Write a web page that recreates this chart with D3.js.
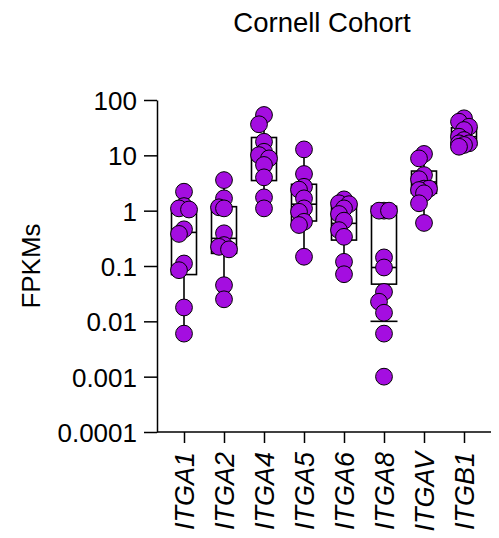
<!DOCTYPE html>
<html><head><meta charset="utf-8">
<script src="https://cdn.jsdelivr.net/npm/d3@7"></script>
<style>body{margin:0;background:#fff}svg{display:block;font-family:Arial,"Liberation Sans",sans-serif}</style>
</head><body><svg id="c" width="499" height="538"></svg>
<script>
const categories = ["ITGA1","ITGA2","ITGA4","ITGA5","ITGA6","ITGA8","ITGAV","ITGB1"];
const itga1 = [2.2,1.21,1.1,1.05,0.46,0.38,0.111,0.084,0.0178,0.006];
const itga2 = [3.57,1.67,1.15,1.1,0.39,0.239,0.222,0.2,0.045,0.025];
const itga4 = [53.6,36.4,17.6,11.6,10.1,8.8,6.7,4.0,1.74,1.1];
const itga5 = [12.8,4.6,2.7,2.4,1.67,1.1,0.955,0.63,0.55,0.147];
const itga6 = [1.6,1.36,1.31,1.1,0.87,0.66,0.445,0.337,0.119,0.071];
const itga8 = [1.0,1.0,1.0,0.143,0.094,0.034,0.0226,0.0143,0.006,0.001];
const itgav = [10.6,8.8,4.4,3.7,2.5,2.5,2.36,2.06,1.36,0.6];
const itgb1 = [46.7,40.5,32.9,28.7,21.7,18.9,16.5,16.5,15.4,14.3];
const seriesValues = [itga1,itga2,itga4,itga5,itga6,itga8,itgav,itgb1];
const boxQ3 =     [1.1, 1.18, 21, 3.0, 1.26, 1.2, 5.2, 31.5];
const boxMedian = [0.405, 0.316, 10, 1.31, 0.59, 0.094, 3.3, 21.7];
const boxQ1 =     [0.07, 0.169, 3.5, 0.65, 0.294, 0.047, 2.06, 15.3];
const whiskerLow =  [0.006, 0.025, 1.1, 0.147, 0.071, 0.01, 0.6, 14.3];
const whiskerHigh = [2.2, 3.57, 53.6, 12.8, 1.6, 1.0, 10.6, 46.7];
const lowCap = [null,null,null,null,null,0.01,null,null];
const yTickValues = [100,10,1,0.1,0.01,0.001,0.0001];
const yTickLabels = ["100","10","1","0.1","0.01","0.001","0.0001"];
const title = "Cornell Cohort";
const yTitle = "FPKMs";

const svg = d3.select("#c");
const x = d3.scalePoint().domain(categories).range([157,491]).padding(0.675);
const y = d3.scaleLog().domain([1e-4,100]).range([432,100]);
const boxW = 25, r = 8.4;

svg.append("text").attr("x",322).attr("y",32).attr("text-anchor","middle")
  .attr("font-size",27.5).text(title);

const yAxis = svg.append("g").attr("transform","translate(157,0)")
  .call(d3.axisLeft(y).tickValues(yTickValues).tickFormat((d,i)=>yTickLabels[i]).tickSize(13).tickPadding(7).tickSizeOuter(0));
yAxis.selectAll("text").attr("font-size",26).attr("fill","#000").attr("dy","0.36em");
yAxis.selectAll("line,path").attr("stroke","#000").attr("stroke-width",1.5);

const xAxis = svg.append("g").attr("transform","translate(0,432)")
  .call(d3.axisBottom(x).tickSize(11).tickSizeOuter(0));
xAxis.select("path").attr("d","M157,0H491");
xAxis.selectAll("line,path").attr("stroke","#000").attr("stroke-width",1.5);
xAxis.selectAll("text").attr("font-size",27).attr("font-style","italic").attr("fill","#000")
  .attr("text-anchor","end").attr("transform","rotate(-90)").attr("x",-20).attr("y",0).attr("dy","0.36em");

svg.append("text").attr("transform","translate(40,266) rotate(-90)").attr("text-anchor","middle")
  .attr("font-size",26).text(yTitle);

const g = svg.append("g");
categories.forEach((c,i)=>{
  const cx = x(c);
  const st = {fill:"none",stroke:"#000","stroke-width":1.6};
  const ln = (x1,y1,x2,y2)=>{const l=g.append("line").attr("x1",x1).attr("y1",y1).attr("x2",x2).attr("y2",y2);for(const k in st)l.attr(k,st[k]);};
  ln(cx,y(whiskerHigh[i]),cx,y(boxQ3[i]));
  ln(cx,y(boxQ1[i]),cx,y(whiskerLow[i]));
  const rect = g.append("rect").attr("x",cx-boxW/2).attr("y",y(boxQ3[i])).attr("width",boxW).attr("height",y(boxQ1[i])-y(boxQ3[i]));
  for(const k in st) rect.attr(k,st[k]);
  ln(cx-boxW/2,y(boxMedian[i]),cx+boxW/2,y(boxMedian[i]));
  if(lowCap[i]!=null) ln(cx-boxW/2-1,y(lowCap[i]),cx+boxW/2+1,y(lowCap[i]));
});

// dodge points
const pts = [];
categories.forEach((c,i)=>{
  const placed = [];
  const vals = seriesValues[i].slice().sort((a,b)=>b-a);
  const step = 5, T = 10;
  const cand = [0,-1,1];
  vals.forEach(v=>{
    const py = y(v);
    let best = null, bestD = -1;
    for(const k of cand){
      const d = d3.min(placed.filter(p=>p.k===k), p=>Math.abs(p.py-py));
      if(d===undefined || d>=T){best=k;break;}
      if(d>bestD){bestD=d;best=k;}
    }
    placed.push({k:best,py});
    pts.push({cx:x(c)+best*step, cy:py});
  });
});
svg.append("g").selectAll("circle").data(pts).join("circle")
  .attr("cx",d=>d.cx).attr("cy",d=>d.cy).attr("r",r)
  .attr("fill","#a40ee0").attr("stroke","#000").attr("stroke-width",1);
</script></body></html>
